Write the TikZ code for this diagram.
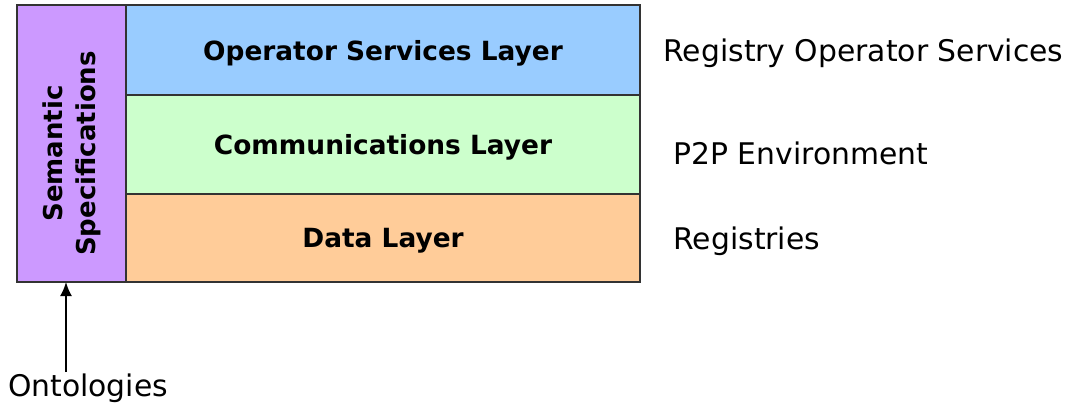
\documentclass[tikz,border=0pt]{standalone}
\usepackage{fontspec}
\setmainfont{DejaVu Sans}
\usetikzlibrary{arrows.meta, positioning}
\definecolor{opblue}{HTML}{99CCFF}
\definecolor{commgreen}{HTML}{CCFFCC}
\definecolor{dataorange}{HTML}{FFCC99}
\definecolor{sempurple}{HTML}{CC99FF}
\definecolor{edgegray}{HTML}{333333}
\tikzset{
    layer/.style={draw=edgegray, line width=1.8pt, minimum width=514pt, inner sep=0pt, outer sep=0pt,
        text depth=0pt, font=\fontsize{26.4}{30}\selectfont\bfseries},
    side/.style={anchor=west, font=\fontsize{29.8}{34}\selectfont},
}

\begin{document}
\begin{tikzpicture}[x=1pt, y=1pt]
    \useasboundingbox (0,0) rectangle (1068,-404);

    % the three layers
    \node[layer, fill=opblue, minimum height=90pt, anchor=north west] at (126,-5) (ops) {Operator Services Layer};
    \node[layer, fill=commgreen, minimum height=99pt, below=0pt of ops] (comm) {Communications Layer};
    \node[layer, fill=dataorange, minimum height=88pt, below=0pt of comm] (data) {Data Layer};

    % semantic column
    \node[draw=edgegray, line width=1.8pt, fill=sempurple, minimum width=109pt, minimum height=277pt,
          inner sep=0pt, outer sep=0pt, anchor=north west] at (17,-5) (sem) {};
    \node[rotate=90, align=center, font=\fontsize{26}{33}\selectfont\bfseries] (semtext) at ([yshift=-10pt]sem.center) {Semantic\\Specifications};

    % right hand labels
    \node[side] (opslabel) at (660,-53) {Registry Operator Services};
    \node[side] (commlabel) at (670,-153) {P2P Environment};
    \node[side] (datalabel) at (670,-241) {Registries};

    % ontologies
    \node[font=\fontsize{29.8}{34}\selectfont] (ont) at (88,-388) {Ontologies};
    \coordinate (ontarrow) at (66,-372);
    \draw[-{Latex[length=14pt, width=12pt]}, line width=2pt] (ontarrow) -- (ontarrow |- sem.south);
\end{tikzpicture}
\end{document}
